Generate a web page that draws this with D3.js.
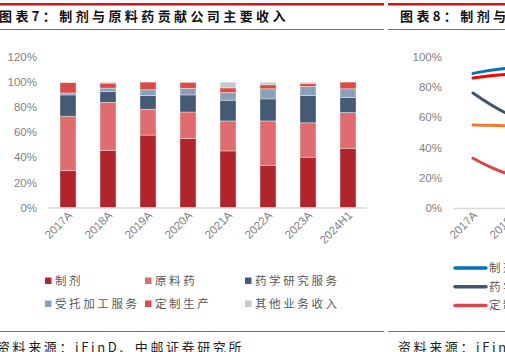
<!DOCTYPE html>
<html>
<head>
<meta charset="utf-8">
<script src="https://cdn.jsdelivr.net/npm/d3@7"></script>
<style>
  body { margin: 0; background: #fff; }
  svg { display: block; }
  text { font-family: "Noto Sans CJK SC", "Liberation Sans", sans-serif; }
</style>
</head>
<body>
<svg width="505" height="352"></svg>
<script>
// left chart: revenue share by business (%)
const years = ["2017A", "2018A", "2019A", "2020A", "2021A", "2022A", "2023A", "2024H1"];
const segKeys = ["制剂", "原料药", "药学研究服务", "受托加工服务", "定制生产", "其他业务收入"];
const zhiji    = [29.5, 45.7, 57.8, 55.1, 45.2, 33.5, 40.2, 47.3];
const yuanliao = [43.3, 38.2, 20.6, 21.1, 23.9, 35.6, 27.4, 28.5];
const yaoxue   = [17.0,  8.6, 11.0, 13.6, 16.5, 17.6, 21.8, 12.0];
const shoutuo  = [ 1.6,  2.7,  4.5,  5.3,  6.1,  8.0,  7.2,  6.9];
const dingzhi  = [ 8.3,  4.0,  6.1,  4.8,  3.7,  3.2,  2.4,  5.3];
const qita     = [ 0.3,  0.8,  0.0,  0.1,  4.6,  2.1,  1.0,  0.0];
const segColors = ["#b0242a", "#e06c6e", "#455a74", "#8aa0b8", "#d94a4a", "#c9c9c9"];
const yTicksL = [0, 20, 40, 60, 80, 100, 120];

// right chart: lines (%), only first part visible
const lineNames = ["制剂", "原料药", "药学研究服务", "受托加工服务", "定制生产"];
const lineBlue   = [89, 92.5, 90, 88, 87, 86, 86, 85];
const lineRed    = [86, 88.5, 87, 86, 85, 84, 84, 83];
const lineSlate  = [76, 61, 58, 55, 50, 48, 45, 44];
const lineOrange = [55, 54, 50, 48, 45, 44, 42, 40];
const lineRose   = [33, 22, 25, 28, 30, 30, 28, 27];
const lineColors = ["#0070c0", "#ff0000", "#44546a", "#ed7d31", "#d9474a"];
const yTicksR = [0, 20, 40, 60, 80, 100];

const svg = d3.select("svg");
const red = "#c8161d";

// header / footer rules
[[0, 384], [388, 505]].forEach(([a, b]) => {
  svg.append("rect").attr("x", a).attr("y", 3).attr("width", b - a).attr("height", 2.5).attr("fill", red);
  svg.append("line").attr("x1", a).attr("x2", b).attr("y1", 29.5).attr("y2", 29.5)
    .attr("stroke", "#d04a4a").attr("stroke-width", 1);
  svg.append("line").attr("x1", a).attr("x2", b).attr("y1", 331.5).attr("y2", 331.5)
    .attr("stroke", "#d04a4a").attr("stroke-width", 1);
});

svg.append("text").attr("x", -1).attr("y", 21)
  .attr("font-size", "13px").attr("font-weight", "bold").attr("fill", "#111")
  .style("letter-spacing", "3.4px")
  .text("图表7：制剂与原料药贡献公司主要收入");
svg.append("text").attr("x", 400).attr("y", 21)
  .attr("font-size", "13px").attr("font-weight", "bold").attr("fill", "#111")
  .style("letter-spacing", "3.4px")
  .text("图表8：制剂与原料药毛利率");

svg.append("text").attr("x", -3).attr("y", 352)
  .attr("font-size", "13px").attr("fill", "#222")
  .style("letter-spacing", "2.6px")
  .text("资料来源：iFinD、中邮证券研究所");
svg.append("text").attr("x", 398).attr("y", 352)
  .attr("font-size", "13px").attr("fill", "#222")
  .style("letter-spacing", "2.6px")
  .text("资料来源：iFinD、中邮证券研究所");

// ---------- left stacked bars ----------
const rows = years.map((y, i) => ({
  year: y,
  "制剂": zhiji[i], "原料药": yuanliao[i], "药学研究服务": yaoxue[i],
  "受托加工服务": shoutuo[i], "定制生产": dingzhi[i], "其他业务收入": qita[i]
}));

const series = d3.stack().keys(segKeys).offset(d3.stackOffsetExpand)(rows);

const x = d3.scaleBand().domain(years).range([48, 368]).paddingInner(0.6).paddingOuter(0.3);
const y = d3.scaleLinear().domain([0, 1.2]).range([207.7, 57]);
const color = d3.scaleOrdinal().domain(segKeys).range(segColors);

svg.append("g").selectAll("g")
  .data(series)
  .join("g")
  .attr("fill", d => color(d.key))
  .selectAll("rect")
  .data(d => d)
  .join("rect")
  .attr("x", d => x(d.data.year))
  .attr("width", x.bandwidth())
  .attr("y", d => y(d[1]))
  .attr("height", d => y(d[0]) - y(d[1]))
  .attr("stroke", "#fff").attr("stroke-opacity", 0.45).attr("stroke-width", 0.8);

svg.append("line").attr("x1", 48).attr("x2", 367).attr("y1", 208).attr("y2", 208)
  .attr("stroke", "#d9d9d9").attr("stroke-width", 1.3);

svg.append("g").selectAll("text")
  .data(yTicksL)
  .join("text")
  .attr("x", 37).attr("y", d => y(d / 100) + 4)
  .attr("text-anchor", "end").attr("font-size", "11.5px").attr("fill", "#7f7f7f")
  .style("font-family", "Liberation Sans, Arial, sans-serif")
  .text(d => d + "%");

svg.append("g").selectAll("text")
  .data(years)
  .join("text")
  .attr("transform", d => `translate(${x(d) + x.bandwidth() / 2 + 5},${216}) rotate(-45)`)
  .attr("text-anchor", "end").attr("font-size", "11.5px").attr("fill", "#7f7f7f")
  .style("font-family", "Liberation Sans, Arial, sans-serif")
  .text(d => d);

// legend
const legendL = svg.append("g");
segKeys.forEach((k, i) => {
  const lx = 45 + (i % 3) * 100, ly = 281 + Math.floor(i / 3) * 23;
  legendL.append("rect").attr("x", lx).attr("y", ly - 3.5).attr("width", 6.5).attr("height", 6.5)
    .attr("fill", segColors[i]);
  legendL.append("text").attr("x", lx + 10).attr("y", ly + 4)
    .attr("font-size", "11.5px").attr("fill", "#595959")
    .style("letter-spacing", "2.6px")
    .text(k);
});

// ---------- right line chart (cut off) ----------
const xr = d3.scalePoint().domain(years).range([473, 473 + 7 * 40]);
const yr = d3.scaleLinear().domain([0, 100]).range([208.3, 56.7]);

svg.append("line").attr("x1", 453).attr("x2", 505).attr("y1", 208.5).attr("y2", 208.5)
  .attr("stroke", "#d9d9d9").attr("stroke-width", 1.3);

svg.append("g").selectAll("text")
  .data(yTicksR)
  .join("text")
  .attr("x", 442).attr("y", d => yr(d) + 4)
  .attr("text-anchor", "end").attr("font-size", "11.5px").attr("fill", "#7f7f7f")
  .style("font-family", "Liberation Sans, Arial, sans-serif")
  .text(d => d + "%");

svg.append("g").selectAll("text")
  .data(years)
  .join("text")
  .attr("transform", d => `translate(${xr(d) + 5},${216}) rotate(-45)`)
  .attr("text-anchor", "end").attr("font-size", "11.5px").attr("fill", "#7f7f7f")
  .style("font-family", "Liberation Sans, Arial, sans-serif")
  .text(d => d);

const lineData = [lineBlue, lineRed, lineSlate, lineOrange, lineRose];
const line = d3.line()
  .x((d, i) => xr(years[i]))
  .y(d => yr(d))
  .curve(d3.curveCatmullRom);

svg.append("g").selectAll("path")
  .data(lineData)
  .join("path")
  .attr("d", line)
  .attr("fill", "none")
  .attr("stroke", (d, i) => lineColors[i])
  .attr("stroke-width", 3)
  .attr("stroke-linecap", "round");

// right legend: first column
const legR = [0, 2, 4];
legR.forEach((li, j) => {
  const ly = 268 + j * 18.7;
  svg.append("line").attr("x1", 455).attr("x2", 486).attr("y1", ly).attr("y2", ly)
    .attr("stroke", lineColors[li]).attr("stroke-width", 3.5).attr("stroke-linecap", "round");
  svg.append("text").attr("x", 489).attr("y", ly + 4)
    .attr("font-size", "11.5px").attr("fill", "#595959")
    .style("letter-spacing", "2.6px")
    .text(lineNames[li] + "毛利率");
});
</script>
</body>
</html>
